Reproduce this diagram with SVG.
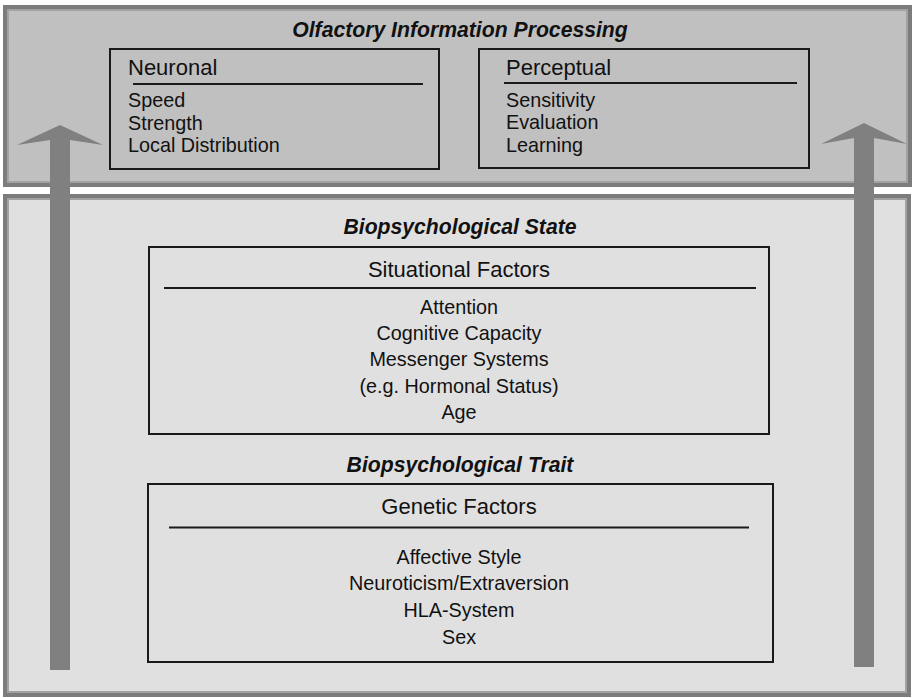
<svg xmlns="http://www.w3.org/2000/svg" width="916" height="698" viewBox="0 0 916 698">
<style>
text{font-family:"Liberation Sans",Arial,sans-serif;fill:#111}
.ttl{font-weight:bold;font-style:italic;font-size:21.2px;text-anchor:middle}
.hd{font-size:22px}
.it{font-size:19.8px}
.c{text-anchor:middle}
.box{fill:none;stroke:#1a1a1a;stroke-width:2}
.rule{stroke:#1a1a1a;stroke-width:2}
.pout{stroke:#7c7c7c;stroke-width:4}
.pin{fill:none;stroke:#a2a2a2;stroke-width:2}
.arrow{fill:#808080;stroke:none}
</style>
<rect width="916" height="698" fill="#ffffff"/>
<g id="panel-olfactory">
<rect class="pout" x="5" y="7" width="905" height="178" fill="#c0c0c0"/>
<rect class="pin" x="8" y="10" width="899" height="172"/>
<text class="ttl" x="460" y="37">Olfactory Information Processing</text>
</g>
<g id="panel-biopsych">
<rect class="pout" x="5" y="196" width="904" height="499" fill="#e0e0e0"/>
<rect class="pin" x="8" y="199" width="898" height="493"/>
<text class="ttl" x="460" y="234">Biopsychological State</text>
<text class="ttl" x="460" y="472">Biopsychological Trait</text>
</g>
<g id="node-neuronal">
<rect class="box" x="110" y="49" width="329" height="120"/>
<text class="hd" x="128" y="75">Neuronal</text>
<line class="rule" x1="133" y1="84" x2="423" y2="84"/>
<text class="it" x="128" y="107">Speed</text>
<text class="it" x="128" y="129.5">Strength</text>
<text class="it" x="128" y="152">Local Distribution</text>
</g>
<g id="node-perceptual">
<rect class="box" x="479" y="49" width="330" height="119"/>
<text class="hd" x="506" y="75">Perceptual</text>
<line class="rule" x1="504" y1="83" x2="797" y2="83"/>
<text class="it" x="506" y="106.5">Sensitivity</text>
<text class="it" x="506" y="129">Evaluation</text>
<text class="it" x="506" y="151.5">Learning</text>
</g>
<g id="node-situational">
<rect class="box" x="149" y="247" width="620" height="187"/>
<text class="hd c" x="459" y="277">Situational Factors</text>
<line class="rule" x1="164" y1="288" x2="756" y2="288"/>
<text class="it c" x="459" y="313.5">Attention</text>
<text class="it c" x="459" y="340">Cognitive Capacity</text>
<text class="it c" x="459" y="366">Messenger Systems</text>
<text class="it c" x="459" y="392.5">(e.g. Hormonal Status)</text>
<text class="it c" x="459" y="419">Age</text>
</g>
<g id="node-genetic">
<rect class="box" x="148" y="484" width="625" height="178"/>
<text class="hd c" x="459" y="513.5">Genetic Factors</text>
<line class="rule" x1="169" y1="527.5" x2="749" y2="527.5"/>
<text class="it c" x="459" y="563.5">Affective Style</text>
<text class="it c" x="459" y="590">Neuroticism/Extraversion</text>
<text class="it c" x="459" y="616.5">HLA-System</text>
<text class="it c" x="459" y="643.5">Sex</text>
</g>
<g id="connectors">
<polygon class="arrow" points="60,125 103,145 70,140 70,670 50,670 50,140 17,145"/>
<polygon class="arrow" points="864,123 907,144 874,138 874,667 854,667 854,138 821,144"/>
</g>
</svg>
